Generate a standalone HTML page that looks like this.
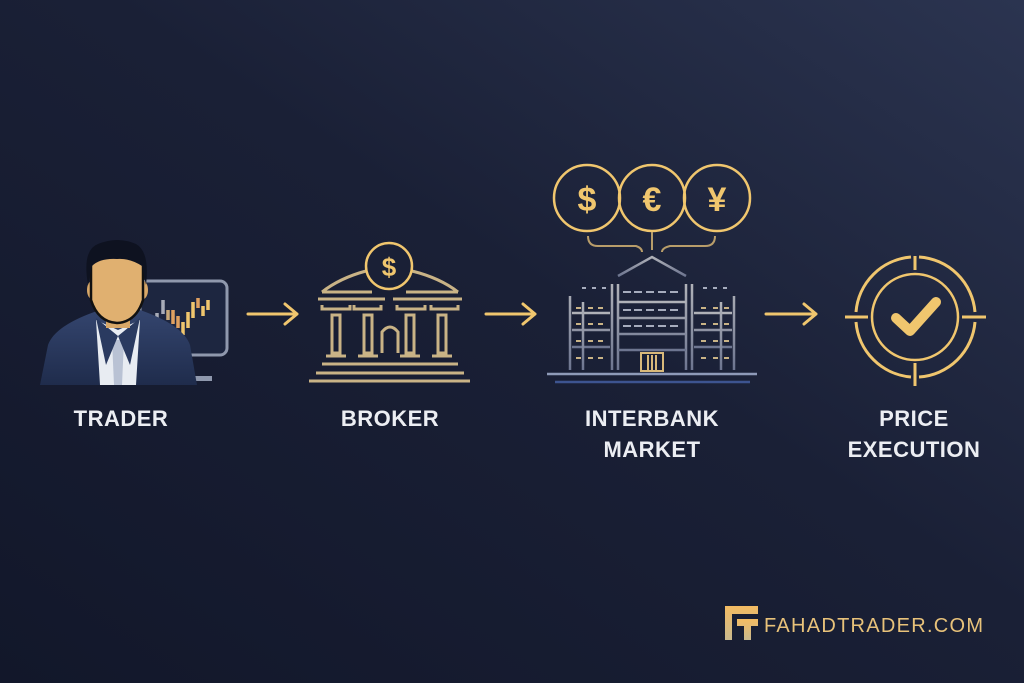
<!DOCTYPE html>
<html><head><meta charset="utf-8"><style>
html,body{margin:0;padding:0;width:1024px;height:683px;overflow:hidden;background:#161b2d}
svg{display:block}
</style></head><body>
<svg width="1024" height="683" viewBox="0 0 1024 683" xmlns="http://www.w3.org/2000/svg">
<defs>
<linearGradient id="bg" x1="0" y1="1" x2="1" y2="0">
<stop offset="0" stop-color="#12172a"/><stop offset="0.55" stop-color="#1a2036"/><stop offset="1" stop-color="#2b3450"/>
</linearGradient>
<linearGradient id="suit" x1="0" y1="0" x2="0" y2="1"><stop offset="0" stop-color="#34456e"/><stop offset="1" stop-color="#1f2c4c"/></linearGradient>
<linearGradient id="bld" x1="0" y1="0" x2="0" y2="1"><stop offset="0" stop-color="#b0b2b8"/><stop offset="1" stop-color="#6d7590"/></linearGradient>
<linearGradient id="logo" x1="0" y1="0" x2="0" y2="1"><stop offset="0" stop-color="#f3bb62"/><stop offset="1" stop-color="#c9b98e"/></linearGradient>
</defs>
<rect width="1024" height="683" fill="url(#bg)"/>

<!-- TRADER -->
<g>
<rect x="140" y="281" width="87" height="74" rx="7" fill="#1d2640" stroke="#8f98ad" stroke-width="3"/>
<rect x="195" y="376" width="17" height="5" fill="#8f98ad"/>
<g stroke-width="3.5">
<line x1="142" y1="318" x2="142" y2="322" stroke="#a8acb8"/>
<line x1="152" y1="322" x2="152" y2="332" stroke="#a8acb8"/>
<line x1="157" y1="313" x2="157" y2="320" stroke="#a8acb8"/>
<line x1="163" y1="300" x2="163" y2="314" stroke="#a8acb8"/>
<line x1="168" y1="310" x2="168" y2="320" stroke="#c9aa7a"/>
<line x1="173" y1="310" x2="173" y2="324" stroke="#e0a060"/>
<line x1="178" y1="316" x2="178" y2="328" stroke="#e0a060"/>
<line x1="183" y1="322" x2="183" y2="335" stroke="#f0c66e"/>
<line x1="188" y1="312" x2="188" y2="328" stroke="#f0c66e"/>
<line x1="193" y1="302" x2="193" y2="318" stroke="#f0c66e"/>
<line x1="198" y1="298" x2="198" y2="308" stroke="#e0a060"/>
<line x1="203" y1="306" x2="203" y2="316" stroke="#f0c66e"/>
<line x1="208" y1="300" x2="208" y2="310" stroke="#f0c66e"/>
</g>
<path d="M40 385 L48 345 Q55 325 100 310 L140 310 Q183 325 190 345 L197 385 Z" fill="url(#suit)"/>
<path d="M96 320 L118 330 L140 320 L136 385 L100 385 Z" fill="#e8ecf2"/>
<path d="M112 340 L124 340 L122 385 L114 385 Z" fill="#b9c2d4"/>
<path d="M96 318 L106 365 L118 336 Z M140 318 L130 365 L118 336 Z" fill="#2a3a60"/>
<rect x="106" y="300" width="24" height="28" fill="#d9a868"/>
<ellipse cx="92" cy="290" rx="5" ry="9" fill="#d9a868"/>
<ellipse cx="143" cy="290" rx="5" ry="9" fill="#d9a868"/>
<path d="M91 262 Q91 248 117 248 Q143 248 143 262 L143 300 Q136 322 117 323 Q98 322 91 300 Z" fill="#e0b070" stroke="#111" stroke-width="2.5"/>
<path d="M88 285 Q82 250 98 244 Q118 236 136 244 Q150 252 146 285 L142 266 Q130 258 117 259 Q100 258 92 266 Z" fill="#0e1220"/>
</g>

<!-- arrows -->
<g fill="none" stroke="#f0c66e" stroke-width="3" stroke-linecap="round" stroke-linejoin="round">
<path d="M248 314 H297 M285 304 L297 314 L285 324"/>
<path d="M486 314 H535 M523 304 L535 314 L523 324"/>
<path d="M766 314 H816 M804 304 L816 314 L804 324"/>
</g>

<!-- BROKER -->
<g fill="none" stroke="#c9b386" stroke-width="3">
<path d="M322 292 Q340 278 366 271"/><path d="M412 271 Q440 278 458 292"/>
<line x1="322" y1="292" x2="372" y2="292"/><line x1="406" y1="292" x2="458" y2="292"/>
<line x1="318" y1="299" x2="385" y2="299"/><line x1="393" y1="299" x2="462" y2="299"/>
<path d="M322 305 V309 H350 V305 M354 305 V309 H381 V305 M397 305 V309 H425 V305 M431 305 V309 H458 V305"/>
<rect x="332" y="315" width="8" height="38"/><rect x="364" y="315" width="8" height="38"/>
<rect x="406" y="315" width="8" height="38"/><rect x="438" y="315" width="8" height="38"/>
<path d="M382 353 V332 Q390 322 398 332 V353"/>
<line x1="326" y1="356" x2="346" y2="356"/><line x1="358" y1="356" x2="378" y2="356"/>
<line x1="400" y1="356" x2="420" y2="356"/><line x1="432" y1="356" x2="452" y2="356"/>
<line x1="322" y1="364" x2="458" y2="364"/>
<line x1="316" y1="373" x2="464" y2="373"/>
<line x1="309" y1="381" x2="470" y2="381"/>
</g>
<circle cx="389" cy="266" r="23" fill="#1a2036" stroke="#f0c66e" stroke-width="2.5"/>
<text x="389" y="276" text-anchor="middle" font-family="Liberation Sans, sans-serif" font-weight="bold" font-size="26" fill="#f0c66e">$</text>

<!-- INTERBANK -->
<g fill="none" stroke="#f0c66e" stroke-width="2.5">
<circle cx="587" cy="198" r="33"/><circle cx="652" cy="198" r="33"/><circle cx="717" cy="198" r="33"/>
</g>
<g font-family="Liberation Sans, sans-serif" font-weight="bold" font-size="34" fill="#f0c66e" text-anchor="middle">
<text x="587" y="211">$</text><text x="652" y="211">€</text><text x="717" y="211">¥</text>
</g>
<g fill="none" stroke="#b89d6a" stroke-width="2">
<path d="M588 236 Q588 246 598 246 H636 Q642 248 642 252"/>
<path d="M652 232 V250"/>
<path d="M715 236 Q715 246 705 246 H670 Q662 248 662 252"/>
</g>
<g fill="none" stroke="url(#bld)" stroke-width="2.5">
<path d="M618 276 L652 257 L686 276"/>
<line x1="578" y1="280" x2="726" y2="280"/>
<line x1="566" y1="296" x2="612" y2="296"/><line x1="692" y1="296" x2="738" y2="296"/>
<path d="M570 296 V370 M612 284 V370 M618 284 V370 M686 284 V370 M692 284 V370 M734 296 V370"/>
<path d="M618 302 H686 M618 318 H686 M618 334 H686 M618 350 H686"/>
<path d="M572 313 H610 M572 330 H610 M572 347 H610 M694 313 H732 M694 330 H732 M694 347 H732"/>
<path d="M583 302 V370 M721 302 V370"/>
</g>
<g stroke="#c9b386" stroke-width="2">
<path d="M576 308 h5 M588 308 h5 M576 324 h5 M588 324 h5 M576 341 h5 M588 341 h5 M576 358 h5 M588 358 h5 M598 308 h5 M598 324 h5 M598 341 h5 M598 358 h5"/>
<path d="M701 308 h5 M713 308 h5 M701 324 h5 M713 324 h5 M701 341 h5 M713 341 h5 M701 358 h5 M713 358 h5 M724 308 h5 M724 324 h5 M724 341 h5 M724 358 h5"/>
</g>
<g stroke="#a6acbd" stroke-width="2">
<path d="M623 292 h8 M634 292 h8 M646 292 h8 M658 292 h8 M670 292 h8 M623 310 h8 M634 310 h8 M646 310 h8 M658 310 h8 M670 310 h8 M623 326 h8 M634 326 h8 M646 326 h8 M658 326 h8 M670 326 h8"/>
<path d="M582 288 h4 M592 288 h4 M602 288 h4 M703 288 h4 M713 288 h4 M723 288 h4"/>
</g>
<rect x="641" y="353" width="22" height="18" fill="none" stroke="#d9b97a" stroke-width="2"/>
<path d="M648 355 V371 M652 355 V371 M656 355 V371" stroke="#d9b97a" stroke-width="2"/>
<line x1="547" y1="374" x2="757" y2="374" stroke="#8e9ab8" stroke-width="2.5"/>
<line x1="555" y1="382" x2="750" y2="382" stroke="#3d5490" stroke-width="2.5"/>

<!-- PRICE EXECUTION -->
<g fill="none" stroke="#f0c66e" stroke-width="3">
<path d="M911 257 A60 60 0 0 0 856 312"/>
<path d="M919 257 A60 60 0 0 1 975 312"/>
<path d="M856 322 A60 60 0 0 0 911 377"/>
<path d="M975 322 A60 60 0 0 1 919 377"/>
<circle cx="915" cy="317" r="43" stroke-width="2.5"/>
<path d="M915 256 V270 M915 363 V386 M845 317 H868 M962 317 H986"/>
</g>
<path d="M896 318 L910 331 L936 302" fill="none" stroke="#f0c66e" stroke-width="10" stroke-linecap="round" stroke-linejoin="round"/>

<!-- labels -->
<g font-family="Liberation Sans, sans-serif" font-weight="bold" font-size="22" fill="#eceef3" text-anchor="middle" letter-spacing="0.5">
<text x="121" y="426">TRADER</text>
<text x="390" y="426">BROKER</text>
<text x="652" y="426">INTERBANK</text>
<text x="652" y="457">MARKET</text>
<text x="914" y="426">PRICE</text>
<text x="914" y="457">EXECUTION</text>
</g>

<!-- logo -->
<path d="M725 606 H758 V614 H732 V640 H725 Z" fill="url(#logo)"/>
<path d="M737 619 H758 V626 H751 V640 H744 V626 H737 Z" fill="url(#logo)"/>
<text x="764" y="632" font-family="Liberation Sans, sans-serif" font-size="20" fill="#e8c27a" textLength="219" lengthAdjust="spacing">FAHADTRADER.COM</text>
</svg>
</body></html>
